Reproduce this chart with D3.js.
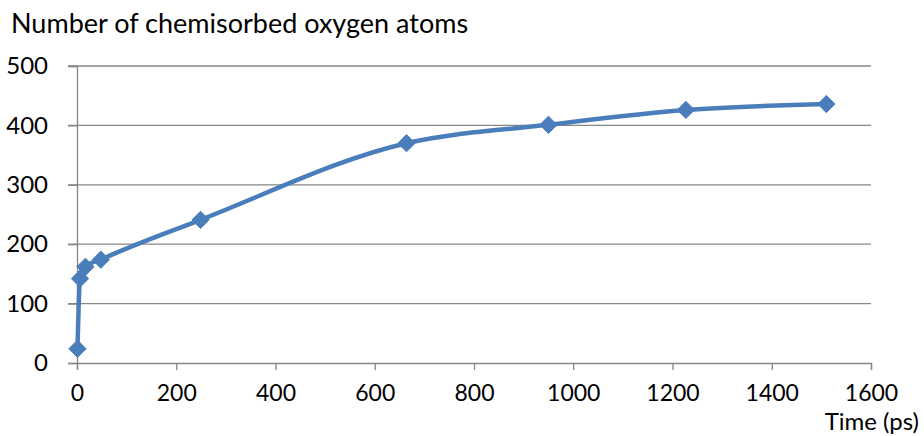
<!DOCTYPE html>
<html><head><meta charset="utf-8">
<script src="https://cdn.jsdelivr.net/npm/d3@7"></script>
<style>body{margin:0;background:#fff;} text{font-family:Lato,"Open Sans",sans-serif;fill:#000;}</style>
</head><body><svg id="c" width="924" height="436"></svg>
<script>
const times = [1, 6, 17, 48, 249, 664, 950, 1227, 1510];
const oxygen = [24, 142, 162, 174, 241, 370, 401, 426, 436];
const xTicks = [0, 200, 400, 600, 800, 1000, 1200, 1400, 1600];
const yTicks = [0, 100, 200, 300, 400, 500];
const titleText = "Number of chemisorbed oxygen atoms";
const xLabel = "Time (ps)";

const svg = d3.select("#c");
const x = d3.scaleLinear().domain([0, 1600]).range([77, 871]);
const y = d3.scaleLinear().domain([0, 500]).range([363, 66]);
const grid = "#868686";

// gridlines
svg.append("g").selectAll("line").data(yTicks.filter(d => d > 0)).join("line")
  .attr("x1", 68).attr("x2", 871).attr("y1", d => y(d)).attr("y2", d => y(d))
  .attr("stroke", grid).attr("stroke-width", 1.3);

// y axis
const ya = svg.append("g").attr("transform", "translate(77,0)")
  .call(d3.axisLeft(y).tickValues(yTicks).tickSize(9).tickPadding(20).tickFormat(d3.format("d")));
ya.select(".domain").attr("stroke", grid).attr("stroke-width", 1.3);
ya.selectAll(".tick line").attr("stroke", grid).attr("stroke-width", 1.3);
ya.selectAll("text").style("font-size", "24px").attr("fill", "#000");

// x axis
const xa = svg.append("g").attr("transform", "translate(0,363)")
  .call(d3.axisBottom(x).tickValues(xTicks).tickSize(7).tickFormat(d3.format("d")));
xa.select(".domain").attr("stroke", grid).attr("stroke-width", 1.3);
xa.selectAll(".tick line").attr("stroke", grid).attr("stroke-width", 1.3);
xa.selectAll("text").style("font-size", "23px").attr("fill", "#000").attr("y", 38).attr("dy", 0);

// line
const pts = times.map((t, i) => [t, oxygen[i]]);
const line = d3.line().x(d => x(d[0])).y(d => y(d[1])).curve(d3.curveMonotoneX);
svg.append("path").datum(pts).attr("d", line)
  .attr("fill", "none").attr("stroke", "#4a7ebb").attr("stroke-width", 4.5)
  .attr("stroke-linejoin", "round");

// diamonds
svg.append("g").selectAll("path").data(pts).join("path")
  .attr("transform", d => `translate(${x(d[0])},${y(d[1])})`)
  .attr("d", d3.symbol().type(d3.symbolDiamond2).size(190))
  .attr("fill", "#4a7ebb").attr("stroke", "#4a7ebb").attr("stroke-width", 1);

// titles
svg.append("text").attr("x", 919).attr("y", 430).attr("text-anchor", "end").style("font-size", "24px").text(xLabel);
svg.append("text").attr("x", 11).attr("y", 33).style("font-size", "27px").text(titleText);
</script></body></html>
